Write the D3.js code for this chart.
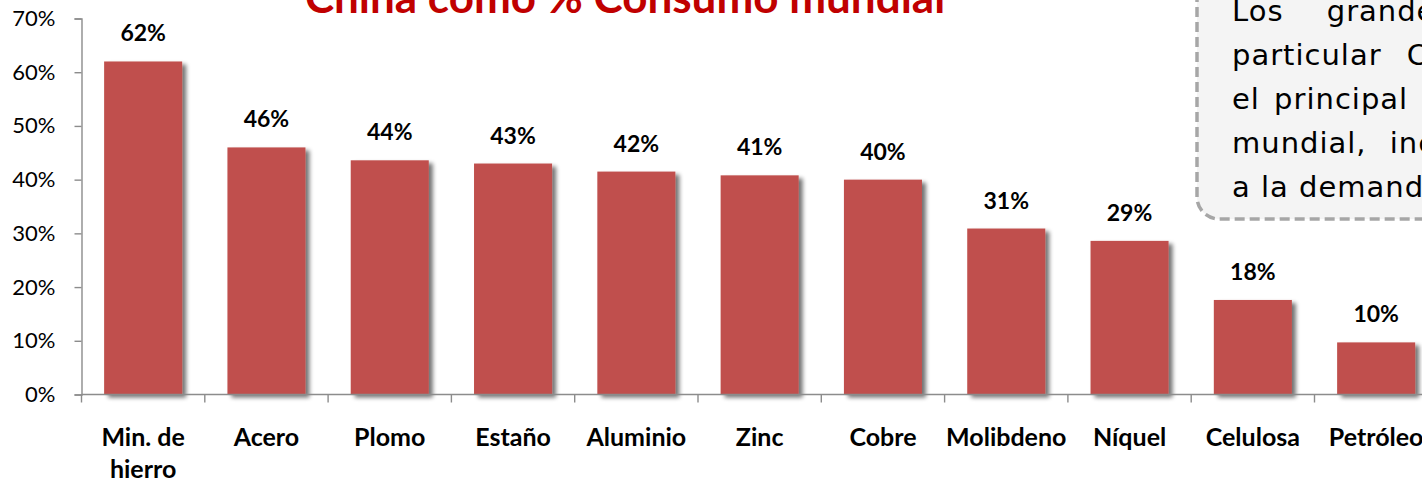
<!DOCTYPE html>
<html>
<head>
<meta charset="utf-8">
<script src="https://cdn.jsdelivr.net/npm/d3@7"></script>
<style>
  html, body { margin: 0; padding: 0; background: #ffffff; overflow: hidden; }
  svg { display: block; }
</style>
</head>
<body>
<script>
// ---- data ----
const categories = ["Min. de hierro", "Acero", "Plomo", "Estaño", "Aluminio", "Zinc", "Cobre", "Molibdeno", "Níquel", "Celulosa", "Petróleo"];
const values = [62.0, 46.0, 43.6, 43.0, 41.5, 40.8, 40.0, 30.9, 28.6, 17.6, 9.7];
const yTicks = [0, 10, 20, 30, 40, 50, 60, 70];
const titleText = "China como % Consumo mundial";
const noteLines = [
  "Los grandes emergentes, en",
  "particular China, se han convertido en",
  "el principal consumidor de materias primas",
  "mundial, incrementando los precios gracias",
  "a la demanda de recursos"
];
const noteWordSpacing = [33, 15, 4, 13, 0];

// ---- layout ----
const W = 1422, H = 479;
const svg = d3.select("body").append("svg").attr("width", W).attr("height", H);

const defs = svg.append("defs");
const f = defs.append("filter").attr("id", "shadow").attr("x", "-20%").attr("y", "-20%").attr("width", "150%").attr("height", "150%");
f.append("feGaussianBlur").attr("in", "SourceAlpha").attr("stdDeviation", 2.2).attr("result", "blur");
f.append("feOffset").attr("in", "blur").attr("dx", 4).attr("dy", 3).attr("result", "off");
f.append("feComponentTransfer").attr("in", "off").attr("result", "soft")
  .append("feFuncA").attr("type", "linear").attr("slope", 0.55);
const m = f.append("feMerge");
m.append("feMergeNode").attr("in", "soft");
m.append("feMergeNode").attr("in", "SourceGraphic");

const x0 = 81.5, step = 123.3;
const x = d3.scaleBand().domain(categories)
  .range([x0, x0 + step * categories.length])
  .paddingInner(0.367).paddingOuter(0.1835);
const y = d3.scaleLinear().domain([0, 70]).range([394.5, 18.5]);

const axisColor = "#8c8c8c";

// ---- title ----
svg.append("text")
  .attr("x", 625).attr("y", 13)
  .attr("text-anchor", "middle")
  .attr("font-family", "Lato, 'Open Sans', sans-serif")
  .attr("font-weight", "bold")
  .attr("font-size", 44)
  .attr("fill", "#c00000")
  .text(titleText);

// ---- bars ----
svg.append("g").selectAll("rect").data(values).join("rect")
  .attr("x", (d, i) => x(categories[i]))
  .attr("y", d => y(d))
  .attr("width", x.bandwidth())
  .attr("height", d => y(0) - y(d))
  .attr("fill", "#c0504d")
  .attr("filter", "url(#shadow)");

// ---- data labels ----
svg.append("g").selectAll("text").data(values).join("text")
  .attr("x", (d, i) => x(categories[i]) + x.bandwidth() / 2)
  .attr("y", d => y(d) - 20)
  .attr("text-anchor", "middle")
  .attr("font-family", "Lato, sans-serif")
  .attr("font-weight", "bold")
  .attr("font-size", 23)
  .attr("fill", "#000")
  .text(d => Math.round(d) + "%");

// ---- y axis ----
const yAxis = d3.axisLeft(y).tickValues(yTicks).tickSize(7).tickPadding(19)
  .tickFormat(d => d + "%");
const gy = svg.append("g").attr("transform", `translate(${x0},0)`).call(yAxis);
gy.select(".domain").attr("stroke", axisColor).attr("stroke-width", 1.4);
gy.selectAll(".tick line").attr("stroke", axisColor).attr("stroke-width", 1.4);
gy.selectAll(".tick text")
  .attr("font-family", "Lato, sans-serif").attr("font-size", 22).attr("fill", "#000");

// ---- x axis ----
const gx = svg.append("g");
gx.append("line").attr("x1", x0).attr("x2", x0 + step * categories.length)
  .attr("y1", y(0)).attr("y2", y(0)).attr("stroke", axisColor).attr("stroke-width", 1.4);
gx.selectAll("line.tk").data(d3.range(categories.length + 1)).join("line")
  .attr("class", "tk")
  .attr("x1", i => x0 + i * x.step()).attr("x2", i => x0 + i * x.step())
  .attr("y1", y(0)).attr("y2", y(0) + 8)
  .attr("stroke", axisColor).attr("stroke-width", 1.4);

const catText = gx.selectAll("text.cat").data(categories).join("text")
  .attr("class", "cat")
  .attr("x", d => x(d) + x.bandwidth() / 2)
  .attr("y", 445.5)
  .attr("text-anchor", "middle")
  .attr("font-family", "Lato, sans-serif")
  .attr("font-weight", "bold")
  .attr("font-size", 25)
  .attr("fill", "#000");

catText.each(function(d) {
  const t = d3.select(this);
  const words = d.split(" ");
  const maxW = x.step() - 2;
  let lines = [], cur = [];
  const probe = t.append("tspan");
  words.forEach(w => {
    const test = cur.concat([w]).join(" ");
    probe.text(test);
    if (probe.node().getComputedTextLength() > maxW && cur.length) {
      lines.push(cur.join(" "));
      cur = [w];
    } else cur.push(w);
  });
  lines.push(cur.join(" "));
  probe.remove();
  const cx = t.attr("x");
  lines.forEach((ln, i) => {
    t.append("tspan").attr("x", cx).attr("dy", i === 0 ? 0 : 32).text(ln);
  });
});

// ---- note box ----
const note = svg.append("g");
note.append("rect")
  .attr("x", 1197).attr("y", -40).attr("width", 320).attr("height", 259)
  .attr("rx", 22).attr("ry", 22)
  .attr("fill", "#f4f4f4")
  .attr("stroke", "#a6a6a6").attr("stroke-width", 3.5)
  .attr("stroke-dasharray", "10,5");
note.selectAll("text").data(noteLines).join("text")
  .attr("x", 1232)
  .attr("y", (d, i) => 21 + i * 44)
  .attr("font-family", "'DejaVu Sans', sans-serif")
  .attr("font-size", 29)
  .attr("letter-spacing", 1)
  .attr("word-spacing", (d, i) => noteWordSpacing[i])
  .attr("fill", "#000")
  .text(d => d);
</script>
</body>
</html>
